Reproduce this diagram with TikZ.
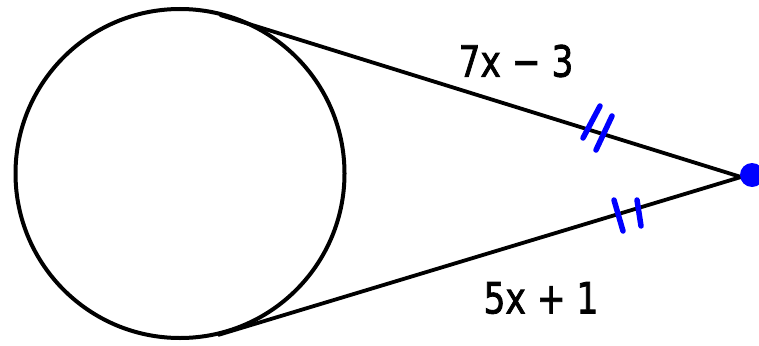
\documentclass[tikz,border=0pt]{standalone}
\usepackage{fontspec}
\setmainfont{DejaVu Sans}
\newfontfamily\lblfont[FakeBold=2]{DejaVu Sans}
\begin{document}
\begin{tikzpicture}[x=1pt,y=-1pt,
  seg/.style={line width=3.8pt,black},
  tick/.style={line width=5.5pt,draw={rgb,255:red,0;green,0;blue,255},line cap=round},
  lbl/.style={font=\lblfont\fontsize{43}{43}\selectfont,inner sep=0pt,anchor=center}]
\useasboundingbox (0,0) rectangle (759,345);
\node[circle,draw,line width=4pt,minimum size=329pt,inner sep=0pt] (C) at (180,173.5) {};
\coordinate (P) at (741,177);
\coordinate (T1) at (220,15);
\coordinate (T2) at (218,335);
\draw[seg] (T1) -- (P);
\draw[seg] (T2) -- (P);
\fill[blue] (752,175) circle (12);
% ticks
\coordinate (a1) at (600,106); \coordinate (a2) at (583,138);
\coordinate (b1) at (612,116); \coordinate (b2) at (596,150);
\draw[tick] (a1) -- (a2);
\draw[tick] (b1) -- (b2);
\coordinate (c1) at (614,200); \coordinate (c2) at (623,231);
\coordinate (d1) at (637,200); \coordinate (d2) at (641,226);
\draw[tick] (c1) -- (c2);
\draw[tick] (d1) -- (d2);
\node[lbl] (L1) at (516,61) {\scalebox{0.8}[1]{7x − 3}};
\node[lbl] (L2) at (541,298) {\scalebox{0.8}[1]{5x + 1}};
\end{tikzpicture}
\end{document}
